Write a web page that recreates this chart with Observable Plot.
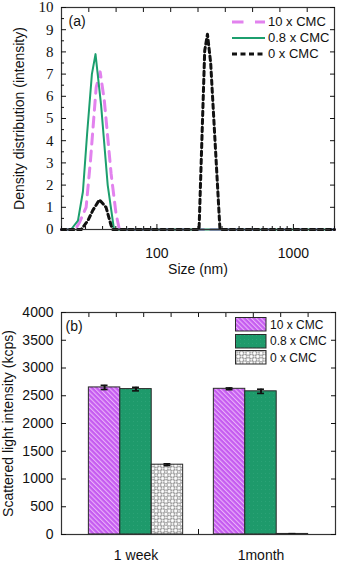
<!DOCTYPE html>
<html><head><meta charset="utf-8">
<script src="https://cdn.jsdelivr.net/npm/d3@7"></script>
<script src="https://cdn.jsdelivr.net/npm/@observablehq/plot@0.6"></script>
<style>
body{margin:0;background:#fff;font-family:"Liberation Sans",Arial,sans-serif;}
#wrap{position:relative;width:338px;height:562px;overflow:hidden;background:#fff}
.panel{position:absolute;left:0;width:338px}
.legend{position:absolute;color:#111;font-family:"Liberation Sans",Arial,sans-serif}
.row{position:absolute;left:0;display:flex;align-items:center;white-space:nowrap}
.row svg{display:block}
</style></head><body>
<svg width="0" height="0" style="position:absolute">
  <defs>
    <pattern id="pinkHatch" patternUnits="userSpaceOnUse" width="3.4" height="3.4" patternTransform="rotate(-45)">
      <rect width="3.4" height="3.4" fill="#c55cf0"/>
      <rect width="1.1" height="3.4" fill="#eab2fa"/>
    </pattern>
    <pattern id="greenFill" patternUnits="userSpaceOnUse" width="4" height="4">
      <rect width="4" height="4" fill="#1e9a6b"/>
      <rect x="1" y="1" width="0.6" height="0.6" fill="#45b08a"/>
    </pattern>
    <pattern id="meshHatch" patternUnits="userSpaceOnUse" width="4.6" height="4.6" patternTransform="rotate(45)">
      <rect width="4.6" height="4.6" fill="#ffffff"/>
      <circle cx="2.3" cy="2.3" r="2.05" fill="none" stroke="#808080" stroke-width="0.8"/>
    </pattern>
  </defs>
</svg>
<div id="wrap">
  <div id="a" class="panel" style="top:0"></div>
  <div id="b" class="panel" style="top:280px"></div>
  <div id="legA" class="legend" style="left:231px;top:14px;font-size:13px"></div>
  <div id="legB" class="legend" style="left:235px;top:317px;font-size:12px"></div>
</div>
<script>
// ---------- Panel (a) data: size (nm) vs density distribution ----------
const seriesNames = ["10 x CMC", "0.8 x CMC", "0 x CMC"];
const size10 = [20, 25.2, 27.0, 30.3, 32.6, 35.9, 38.4, 41.2, 46.2, 50.2, 53.1, 2000];
const dens10 = [0, 0, 0.3, 1.0, 3.1, 6.4, 7.1, 5.8, 2.5, 0.7, 0, 0];
const size08 = [20, 23.5, 26.4, 28.7, 30.8, 33.4, 35.5, 39.0, 43.6, 48.5, 2000];
const dens08 = [0, 0, 0.4, 1.7, 4.3, 7.0, 7.9, 5.6, 2.0, 0, 0];
const size0 = [20, 27.9, 31.2, 33.9, 37.9, 42.4, 46.2, 47.5, 203.6, 224, 234.6, 247.7, 289.7, 2000];
const dens0 = [0, 0, 0.4, 0.86, 1.34, 1.0, 0.18, 0, 0, 8.06, 8.8, 7.5, 0, 0];
const densTicks = [0, 1, 2, 3, 4, 5, 6, 7, 8, 9, 10];
const sizeTickLabels = [100, 1000];

// ---------- Panel (b) data: scattered light intensity ----------
const groups = ["1 week", "1month"];
const intensity10 = [2650, 2625];
const intensity08 = [2620, 2580];
const intensity0 = [1258, 10];
const error10 = [38, 16];
const error08 = [32, 38];
const error0 = [16, 5];
const intensityTicks = [0, 500, 1000, 1500, 2000, 2500, 3000, 3500, 4000];

// styles
const lineColors = ["#e282ee", "#1c9f6e", "#111111"];
const lineDash = ["10,7", null, "4.5,3.5"];
const lineWidth = [3, 2, 3];
const barFills = ["url(#pinkHatch)", "url(#greenFill)", "url(#meshHatch)"];
const sans = "Liberation Sans, Arial, sans-serif";
const serif = "Liberation Serif, Times New Roman, serif";

const lineData = [
  size10.map((s, i) => ({size: s, dens: dens10[i]})),
  size08.map((s, i) => ({size: s, dens: dens08[i]})),
  size0.map((s, i) => ({size: s, dens: dens0[i]}))
];

const logTicks = d3.scaleLog().domain([20, 2000]).ticks();
const minorLogTicks = logTicks.filter(t => !sizeTickLabels.includes(t));
const topTicksA = d3.range(1, 10).map(k => 20 * Math.pow(100, k / 10));
const blank = () => "";
const plain = d => String(d);

const chartA = Plot.plot({
  width: 338, height: 280,
  marginLeft: 61, marginRight: 4, marginTop: 7, marginBottom: 51,
  style: {fontFamily: sans, fontSize: "14px", color: "#111", background: "white"},
  x: {type: "log", domain: [20, 2000]},
  y: {domain: [0, 10]},
  marks: [
    ...lineData.map((d, i) => Plot.line(d, {x: "size", y: "dens", stroke: lineColors[i], strokeWidth: lineWidth[i], strokeDasharray: lineDash[i]})),
    Plot.frame({stroke: "#333", strokeWidth: 1.2}),
    Plot.axisY({ticks: densTicks, tickSize: -5, tickPadding: 13, tickFormat: plain, fontFamily: serif, fontSize: 15, label: null}),
    Plot.axisY({ticks: [], fontFamily: sans, fontSize: 14, label: "Density distribution (intensity)", labelAnchor: "center", labelOffset: 47, labelArrow: "none"}),
    Plot.axisY({ticks: d3.range(0.5, 10, 1), tickSize: -3, tickFormat: blank, label: null}),
    Plot.axisY({anchor: "right", ticks: densTicks, tickSize: -5, tickFormat: blank, label: null}),
    Plot.axisX({ticks: sizeTickLabels, tickSize: -5, tickPadding: 24, tickFormat: plain, fontSize: 14, label: "Size (nm)", labelAnchor: "center", labelOffset: 44, labelArrow: "none"}),
    Plot.axisX({ticks: minorLogTicks, tickSize: -3, tickFormat: blank, label: null}),
    Plot.axisX({anchor: "top", ticks: topTicksA, tickSize: -4, tickFormat: blank, label: null}),
    Plot.text(["(a)"], {frameAnchor: "top-left", dx: 7, dy: 14, lineAnchor: "middle", textAnchor: "start", fontSize: 14})
  ]
});
document.getElementById("a").appendChild(chartA);

// ---------- Panel (b) ----------
const values = [intensity10, intensity08, intensity0];
const errors = [error10, error08, error0];
const outer = d3.scaleBand().domain(groups).range([0, 10]).paddingInner(0.2456).paddingOuter(0.219);
const inner = d3.scaleBand().domain(seriesNames).range([0, outer.bandwidth()]);
const bars = [];
groups.forEach((g, gi) => seriesNames.forEach((s, si) => {
  const x1 = outer(g) + inner(s);
  bars.push({group: g, series: s, si, value: values[si][gi], err: errors[si][gi], x1, x2: x1 + inner.bandwidth(), xc: x1 + inner.bandwidth() / 2});
}));
const groupCenters = groups.map(g => outer(g) + outer.bandwidth() / 2);
const centerLabel = new Map(groupCenters.map((c, i) => [c, groups[i]]));
const capHalf = inner.bandwidth() * 0.11;

const chartB = Plot.plot({
  width: 338, height: 282,
  marginLeft: 61, marginRight: 3, marginTop: 32, marginBottom: 28,
  style: {fontFamily: sans, fontSize: "14px", color: "#111", background: "white"},
  x: {domain: [0, 10]},
  y: {domain: [0, 4000]},
  marks: [
    ...seriesNames.map((s, si) => Plot.rectY(bars.filter(d => d.si === si), {x1: "x1", x2: "x2", y1: 0, y2: "value", fill: barFills[si], stroke: "#2a2a2a", strokeWidth: 1})),
    Plot.ruleX(bars, {x: "xc", y1: d => d.value - d.err, y2: d => d.value + d.err, stroke: "#111", strokeWidth: 2}),
    Plot.ruleY(bars, {y: d => d.value + d.err, x1: d => d.xc - capHalf, x2: d => d.xc + capHalf, stroke: "#111", strokeWidth: 1.6}),
    Plot.ruleY(bars, {y: d => d.value - d.err, x1: d => d.xc - capHalf, x2: d => d.xc + capHalf, stroke: "#111", strokeWidth: 1.6}),
    Plot.frame({stroke: "#333", strokeWidth: 1.2}),
    Plot.axisY({ticks: intensityTicks, tickSize: -5, tickPadding: 13, tickFormat: plain, fontSize: 14, label: "Scattered light intensity (kcps)", labelAnchor: "center", labelOffset: 58, labelArrow: "none"}),
    Plot.axisY({anchor: "right", ticks: intensityTicks, tickSize: -5, tickFormat: blank, label: null}),
    Plot.axisX({ticks: groupCenters, tickSize: 0, tickPadding: 16, tickFormat: d => centerLabel.get(d), fontSize: 14, label: null}),
    Plot.axisX({ticks: [(groupCenters[0] + groupCenters[1]) / 2], tickSize: -5, tickFormat: blank, label: null}),
    Plot.axisX({anchor: "top", ticks: d3.range(1, 10), tickSize: -4, tickFormat: blank, label: null}),
    Plot.text(["(b)"], {frameAnchor: "top-left", dx: 4, dy: 14, lineAnchor: "middle", textAnchor: "start", fontSize: 14})
  ]
});
document.getElementById("b").appendChild(chartB);

// ---------- Legends ----------
const legA = document.getElementById("legA");
seriesNames.forEach((s, i) => {
  const row = document.createElement("div");
  row.className = "row";
  row.style.top = (i * 16) + "px";
  row.innerHTML = `<svg width="36" height="14"><line x1="1" y1="7" x2="34" y2="7" stroke="${lineColors[i]}" stroke-width="${lineWidth[i]}" ${lineDash[i] ? `stroke-dasharray="${i === 0 ? "11.5,11.5" : "5,3.5"}"` : ""}/></svg><span style="margin-left:1px">${s}</span>`;
  legA.appendChild(row);
});
const legB = document.getElementById("legB");
seriesNames.forEach((s, i) => {
  const row = document.createElement("div");
  row.className = "row";
  row.style.top = (i * 16.5) + "px";
  row.innerHTML = `<svg width="32" height="15"><rect x="0.5" y="0.5" width="30.5" height="13.5" fill="${barFills[i]}" stroke="#2a2a2a" stroke-width="1"/></svg><span style="margin-left:3px">${s}</span>`;
  legB.appendChild(row);
});
</script>
</body></html>
